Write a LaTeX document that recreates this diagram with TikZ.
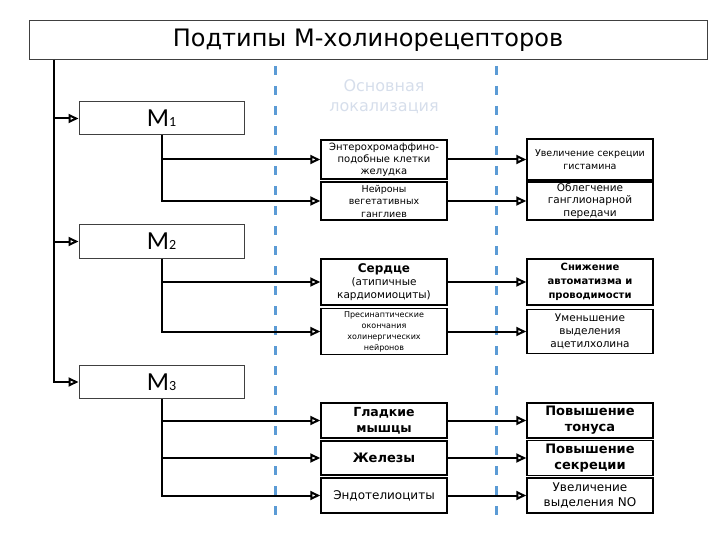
\documentclass[tikz,border=0pt]{standalone}
\usepackage{fontspec}
\setmainfont{DejaVu Sans}
\newfontfamily\calib{Carlito}
\usetikzlibrary{arrows.meta}
\tikzset{>={Triangle[open,length=10pt,width=9pt]}}
\definecolor{dashblue}{RGB}{91,155,213}
\definecolor{faint}{RGB}{214,222,235}

\begin{document}
\begin{tikzpicture}[x=1pt,y=-1pt]
	\tikzstyle{head} = [draw=black!75, line width=1pt, minimum width=678pt, minimum height=39pt, inner sep=0pt, font=\fontsize{24}{28}\selectfont]
	\tikzstyle{mbox} = [draw=black!75, line width=1pt, minimum width=165pt, minimum height=33pt, inner sep=0pt, font=\calib\fontsize{26}{26}\selectfont]
	\tikzstyle{cell} = [draw=black, line width=1.5pt, minimum width=126pt, text width=122pt, align=center, inner sep=1pt]
	\tikzstyle{link} = [->, line width=2pt]
	\tikzstyle{zone} = [dashblue, line width=3pt, dash pattern=on 9pt off 11pt]

	\useasboundingbox (0,0) rectangle (720,540);

%----------Заголовок и зоны------------------------------
	\node[head] (title) at (368,40.5) {Подтипы М-холинорецепторов};
	\coordinate (trunk) at (54,60);

	\draw[zone] (275,66)--(275,522);
	\draw[zone] (496,66)--(496,522);

	\node[faint, align=center, font=\fontsize{16}{20}\selectfont] (place) at (384,97) {Основная\\локализация};

%----------Подтипы------------------------------
	\node[mbox] (m1) at (161.5,118.5) {M{\fontsize{14}{14}\selectfont 1}};
	\node[mbox] (m2) at (161.5,241.5) {M{\fontsize{14}{14}\selectfont 2}};
	\node[mbox] (m3) at (161.5,382) {M{\fontsize{14}{14}\selectfont 3}};

	\draw[link] (trunk) |- (m1.west);
	\draw[link] (trunk) |- (m2.west);
	\draw[link] (trunk) |- (m3.west);

%----------M1------------------------------
	\node[cell, minimum height=39pt, font=\fontsize{10}{12}\selectfont] (ecl) at (384,159.5) {Энтерохромаффино-\\подобные клетки\\желудка};
	\node[cell, minimum height=38pt, font=\fontsize{9.5}{12.5}\selectfont] (gang) at (384,201) {Нейроны\\вегетативных\\ганглиев};
	\node[cell, minimum height=41pt, font=\fontsize{9.5}{13}\selectfont] (hist) at (590,159.5) {Увеличение секреции\\гистамина};
	\node[cell, minimum height=38pt, font=\fontsize{10.5}{12.5}\selectfont] (trans) at (590,201) {Облегчение\\ганглионарной\\передачи};

	\draw[link] (m1.south) |- (ecl.west);
	\draw[link] (m1.south) |- (gang.west);
	\draw[link] (ecl.east) -- (hist.west);
	\draw[link] (gang.east) -- (trans.west);

%----------M2------------------------------
	\node[cell, minimum height=46pt, font=\fontsize{10.5}{13}\selectfont] (heart) at (384,282) {{\fontsize{12}{13}\selectfont\bfseries Сердце}\\(атипичные\\кардиомиоциты)};
	\node[cell, minimum height=46pt, font=\fontsize{8}{11}\selectfont] (presyn) at (384,331.5) {Пресинаптические\\окончания\\холинергических\\нейронов};
	\node[cell, minimum height=46pt, font=\bfseries\fontsize{10}{14}\selectfont] (rhythm) at (590,282) {Снижение\\автоматизма и\\проводимости};
	\node[cell, minimum height=44pt, font=\fontsize{10.5}{13}\selectfont] (ach) at (590,331.5) {Уменьшение\\выделения\\ацетилхолина};

	\draw[link] (m2.south) |- (heart.west);
	\draw[link] (m2.south) |- (presyn.west);
	\draw[link] (heart.east) -- (rhythm.west);
	\draw[link] (presyn.east) -- (ach.west);

%----------M3------------------------------
	\node[cell, minimum height=35pt, font=\bfseries\fontsize{12.5}{16}\selectfont] (smooth) at (384,420.5) {Гладкие\\мышцы};
	\node[cell, minimum height=34pt, font=\bfseries\fontsize{13}{16}\selectfont] (glands) at (384,458) {Железы};
	\node[cell, minimum height=35pt, font=\fontsize{12}{15}\selectfont] (endo) at (384,495.5) {Эндотелиоциты};
	\node[cell, minimum height=35pt, font=\bfseries\fontsize{13}{16}\selectfont] (tone) at (590,420.5) {Повышение\\тонуса};
	\node[cell, minimum height=35pt, font=\bfseries\fontsize{13}{16}\selectfont] (secr) at (590,458) {Повышение\\секреции};
	\node[cell, minimum height=35pt, font=\fontsize{12}{15}\selectfont] (no) at (590,495.5) {Увеличение\\выделения NO};

	\draw[link] (m3.south) |- (smooth.west);
	\draw[link] (m3.south) |- (glands.west);
	\draw[link] (m3.south) |- (endo.west);
	\draw[link] (smooth.east) -- (tone.west);
	\draw[link] (glands.east) -- (secr.west);
	\draw[link] (endo.east) -- (no.west);

\end{tikzpicture}
\end{document}
